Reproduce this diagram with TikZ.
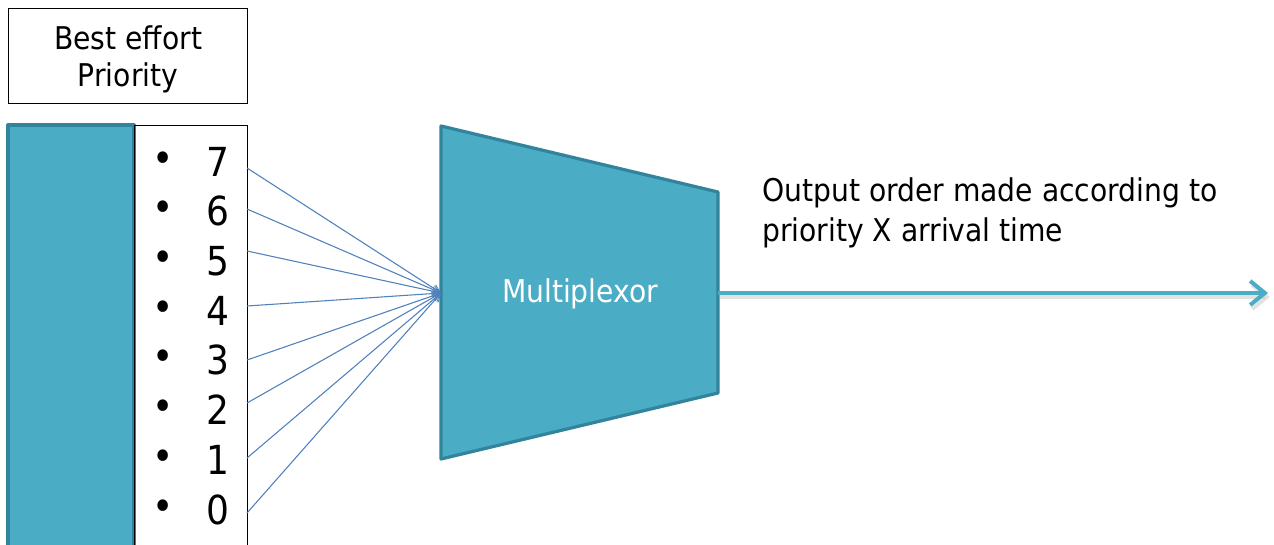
\documentclass[tikz,border=0pt]{standalone}
\usepackage{fontspec}
\setmainfont{DejaVu Sans Condensed}
\usetikzlibrary{arrows.meta,calc}
\definecolor{teal}{HTML}{4BACC6}
\definecolor{tealedge}{HTML}{31849B}
\definecolor{fanblue}{HTML}{4F81BD}
\tikzset{
  px/.style={x=0.75pt,y=-0.75pt},
  label/.style={font=\fontsize{23.5}{29}\selectfont, inner sep=0pt},
  digit/.style={font=\fontsize{30}{32}\selectfont, inner sep=0pt, anchor=center},
  bullet/.style={font=\fontsize{30}{32}\selectfont, inner sep=0pt},
  fan/.style={draw=fanblue, line width=0.8pt, -{Straight Barb[length=6pt,width=6pt,line width=0.6pt]}},
  tealbox/.style={fill=teal, draw=tealedge, line width=2.4pt, line join=round},
}
\begin{document}
\begin{tikzpicture}[px]
\useasboundingbox (0,0) rectangle (1274,545);
\clip (0,0) rectangle (1274,545);
\fill[white] (0,0) rectangle (1274,545);

% header box
\node[draw=black, line width=0.8pt, minimum width=239*0.75pt, minimum height=95*0.75pt, anchor=north west] (hdr) at (8,8) {};
\node[label, align=center] (hdrtext) at ($(hdr.center)+(0,3)$) {Best effort\\[-1pt]Priority};

% queue bar and priority list
\draw[tealbox] (8,560) rectangle (134,125);
\node[draw=black, line width=0.8pt, anchor=north west, minimum width=113*0.75pt, minimum height=440*0.75pt] (list) at (134,125) {};

\foreach \d/\y in {7/162,6/211,5/261,4/311,3/360,2/410,1/460,0/510}{
  \node[bullet] (b\d) at (163,\y) {•};
  \node[digit] (n\d) at (218,\y) {\d};
}

% multiplexer
\draw[tealbox] (441,126) -- (718,192) -- (718,393) -- (441,459) -- cycle;
\coordinate (muxin) at (441,293);
\coordinate (muxout) at (718,293);
\node[label, text=white] (mux) at (580,294) {Multiplexor};

% fan-in connectors
\foreach \d/\y in {7/168,6/209,5/251,4/306,3/360,2/403,1/458,0/513}{
  \coordinate (s\d) at (247,\y);
  \draw[fan] (s\d) -- (muxin);
}

% output
\coordinate (outend) at (1268,293);
\draw[black!22, line width=3pt, opacity=0.5, -{Straight Barb[length=11pt,width=18pt,line width=3pt]}]
  ($(muxout)+(2,4)$) -- ($(outend)+(2,4)$);
\draw[teal, line width=3pt, -{Straight Barb[length=11pt,width=18pt,line width=3pt]}] (muxout) -- (outend);

\node[label, anchor=north west, align=left] (note) at (762,177) {Output order made according to\\[1pt]priority X arrival time};
\end{tikzpicture}
\end{document}
